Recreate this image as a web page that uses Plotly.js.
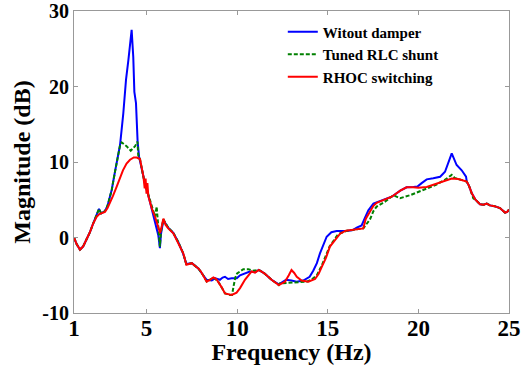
<!DOCTYPE html>
<html>
<head>
<meta charset="utf-8">
<script src="https://cdn.plot.ly/plotly-3.0.1.min.js"></script>
<style>html,body{margin:0;padding:0;background:#fff;}#chart{width:527px;height:365px;}</style>
</head>
<body>
<div id="chart"></div>
<script>
// Series names
const seriesNames = ["Witout damper", "Tuned RLC shunt", "RHOC switching"];

// Without damper (blue)
const freqBlue = [1.0,1.15,1.33,1.5,1.7,1.88,2.05,2.25,2.38,2.5,2.71,2.85,3.08,3.26,3.45,3.54,3.72,3.87,4.0,4.18,4.27,4.33,4.42,4.51,4.59,4.7,4.83,4.95,5.1,5.25,5.4,5.55,5.65,5.74,5.8,5.93,6.2,6.48,6.75,7.0,7.12,7.2,7.5,7.86,8.13,8.32,8.6,8.8,9.05,9.2,9.33,9.5,9.7,9.98,10.16,10.4,10.7,10.99,11.2,11.5,11.9,12.3,12.7,13.0,13.28,13.65,14.0,14.2,14.4,14.57,14.75,14.94,15.2,15.49,16.05,16.4,16.6,16.87,17.05,17.24,17.52,18.07,18.53,19.0,19.35,19.72,19.95,20.18,20.46,20.82,21.2,21.47,21.65,21.84,22.11,22.39,22.63,22.67,22.8,22.94,23.15,23.4,23.6,23.77,23.95,24.2,24.5,24.78,24.9,25.0];
const magBlue = [0.0,-0.9,-1.6,-1.2,-0.2,0.7,1.8,2.9,3.8,3.2,3.5,4.2,6.3,8.7,11.0,12.25,16.45,20.9,23.5,27.5,23.9,19.3,17.8,12.7,10.7,9.5,8.0,6.8,5.6,4.2,3.0,1.5,0.3,-1.4,0.5,2.3,1.3,0.6,-0.6,-2.0,-3.0,-3.5,-3.4,-4.1,-5.0,-5.6,-5.7,-5.4,-5.6,-5.3,-5.2,-5.5,-5.4,-5.4,-5.0,-4.8,-4.5,-4.6,-4.3,-4.75,-5.6,-6.2,-5.6,-5.7,-5.85,-5.7,-5.2,-4.4,-3.4,-2.1,-0.9,0.1,0.7,0.86,0.86,1.0,1.3,1.6,2.6,3.6,4.5,5.0,5.4,6.2,6.65,6.7,6.75,7.2,7.7,7.85,8.05,8.7,10.0,11.15,9.6,8.9,8.05,7.4,6.8,5.9,5.0,4.4,4.35,4.5,4.25,4.15,3.9,3.3,3.4,3.7];

// Tuned RLC shunt (green dashed)
const freqGreen = [1.0,1.15,1.33,1.5,1.7,1.88,2.05,2.25,2.38,2.5,2.71,2.85,3.08,3.26,3.45,3.55,3.63,3.9,4.13,4.37,4.5,4.55,4.64,4.83,5.0,5.2,5.4,5.47,5.56,5.62,5.68,5.74,5.8,5.93,6.2,6.48,6.75,7.03,7.2,7.5,7.86,8.13,8.32,8.69,8.96,9.33,9.6,9.72,9.8,9.9,10.0,10.34,10.62,10.9,11.2,11.5,11.9,12.3,12.37,12.9,13.4,13.84,14.1,14.4,14.67,14.94,15.1,15.3,15.58,16.05,16.96,17.33,17.52,17.7,18.16,18.62,18.99,19.54,20.27,21.0,21.5,21.84,22.0,22.2,22.48,22.67,22.8,23.03,23.15,23.4,23.6,23.77,23.95,24.2,24.5,24.78,24.9,25.0];
const magGreen = [0.0,-0.9,-1.6,-1.2,-0.2,0.7,1.8,2.9,3.8,3.2,3.5,4.2,6.3,8.7,11.0,12.3,12.6,12.1,11.5,12.1,12.7,10.7,10.4,8.0,6.5,4.8,3.0,2.75,4.1,2.5,1.0,-1.2,0.8,2.4,1.3,0.6,-0.6,-2.1,-3.6,-3.4,-4.1,-5.0,-5.85,-5.3,-5.85,-7.4,-7.6,-7.6,-6.5,-5.3,-4.75,-4.2,-4.2,-4.4,-4.3,-4.75,-5.6,-6.3,-6.07,-6.0,-5.95,-5.85,-5.6,-5.0,-3.7,-2.0,-1.2,-0.5,0.45,0.9,1.2,2.4,3.5,4.1,4.75,5.6,5.2,5.6,6.3,7.0,7.7,8.3,7.9,7.75,7.6,7.4,6.8,5.2,5.0,4.4,4.35,4.5,4.25,4.15,3.9,3.3,3.4,3.7];

// RHOC switching (red)
const freqRed = [1.0,1.15,1.33,1.5,1.7,1.88,2.05,2.25,2.4,2.55,2.71,2.85,2.99,3.15,3.35,3.5,3.7,3.9,4.09,4.3,4.46,4.64,4.75,4.83,4.9,4.95,5.0,5.05,5.1,5.19,5.3,5.47,5.65,5.75,5.85,5.93,6.05,6.2,6.48,6.75,7.03,7.2,7.35,7.5,7.7,7.86,8.0,8.13,8.32,8.5,8.69,8.85,8.96,9.15,9.33,9.5,9.7,9.97,10.16,10.43,10.8,10.99,11.2,11.5,11.9,12.3,12.64,12.85,13.0,13.15,13.29,13.56,13.93,14.3,14.5,14.67,14.9,15.12,15.3,15.5,15.68,16.0,16.4,16.96,17.1,17.33,17.52,17.7,18.07,18.53,19.0,19.35,19.7,20.0,20.46,20.85,21.2,21.5,21.84,22.2,22.48,22.67,22.8,22.94,23.15,23.4,23.6,23.77,23.95,24.2,24.5,24.78,24.9,25.0];
const magRed = [0.0,-0.9,-1.6,-1.2,-0.2,0.7,1.8,2.75,3.1,3.3,3.4,3.9,4.6,5.5,6.7,7.7,8.9,9.8,10.3,10.6,10.6,10.4,9.2,8.1,6.5,7.8,5.8,7.2,5.5,4.6,3.8,2.75,1.2,0.6,1.6,2.5,1.7,1.2,0.55,-0.7,-2.1,-3.6,-3.5,-3.4,-3.8,-4.1,-4.5,-5.0,-5.85,-5.6,-5.3,-5.5,-5.85,-6.6,-7.4,-7.5,-7.6,-7.3,-6.7,-5.6,-4.5,-4.65,-4.3,-4.75,-5.6,-6.3,-5.85,-5.0,-4.3,-4.7,-5.2,-5.7,-5.85,-5.5,-4.8,-3.9,-2.7,-1.2,-0.6,-0.1,0.5,0.9,1.0,1.2,2.5,3.4,4.2,4.6,5.0,5.4,6.2,6.65,6.65,6.6,6.7,7.0,7.35,7.6,7.8,7.75,7.6,7.4,6.8,5.9,5.0,4.4,4.35,4.5,4.25,4.15,3.9,3.3,3.4,3.7];

// Axis ticks
const xTickVals = [1,5,10,15,20,25];
const xTickText = ["1","5","10","15","20","25"];
const yTickVals = [-10,0,10,20,30];
const yTickText = ["-10","0","10","20","30"];

const serif = "Liberation Serif, Times New Roman, serif";

const traces = [
  {x: freqBlue, y: magBlue, name: seriesNames[0], mode: "lines", line: {color: "#0000ff", width: 2}},
  {x: freqGreen, y: magGreen, name: seriesNames[1], mode: "lines", line: {color: "#008000", width: 2, dash: "4px,2px"}},
  {x: freqRed, y: magRed, name: seriesNames[2], mode: "lines", line: {color: "#ff0000", width: 2}}
];

const axisCommon = {
  showline: true, linecolor: "#999", linewidth: 1, mirror: "ticks",
  ticks: "inside", ticklen: 4, tickcolor: "#999",
  showgrid: false, zeroline: false, ticklabeloverflow: "allow"
};

const layout = {
  width: 527, height: 365,
  margin: {l: 74, r: 18, t: 11, b: 52},
  paper_bgcolor: "#fff", plot_bgcolor: "#fff",
  showlegend: true,
  legend: {x: 0.48, y: 0.985, xanchor: "left", yanchor: "top", bgcolor: "rgba(0,0,0,0)",
           font: {family: serif, size: 15, color: "#000", weight: "bold"}, tracegroupgap: 0},
  xaxis: Object.assign({}, axisCommon, {
    range: [1, 25], tickmode: "array", tickvals: xTickVals, ticktext: xTickText,
    tickfont: {family: serif, size: 23, color: "#000", weight: "bold"},
    ticklabelstandoff: -6,
    title: {text: "Frequency (Hz)", font: {family: serif, size: 24, color: "#000", weight: "bold"}, standoff: 0}
  }),
  yaxis: Object.assign({}, axisCommon, {
    range: [-10, 30], tickmode: "array", tickvals: yTickVals, ticktext: yTickText,
    tickfont: {family: serif, size: 20, color: "#000", weight: "bold"},
    title: {text: "Magnitude (dB)", font: {family: serif, size: 24, color: "#000", weight: "bold"}, standoff: 4}
  })
};

Plotly.newPlot("chart", traces, layout, {displayModeBar: false, staticPlot: true});
</script>
</body>
</html>
